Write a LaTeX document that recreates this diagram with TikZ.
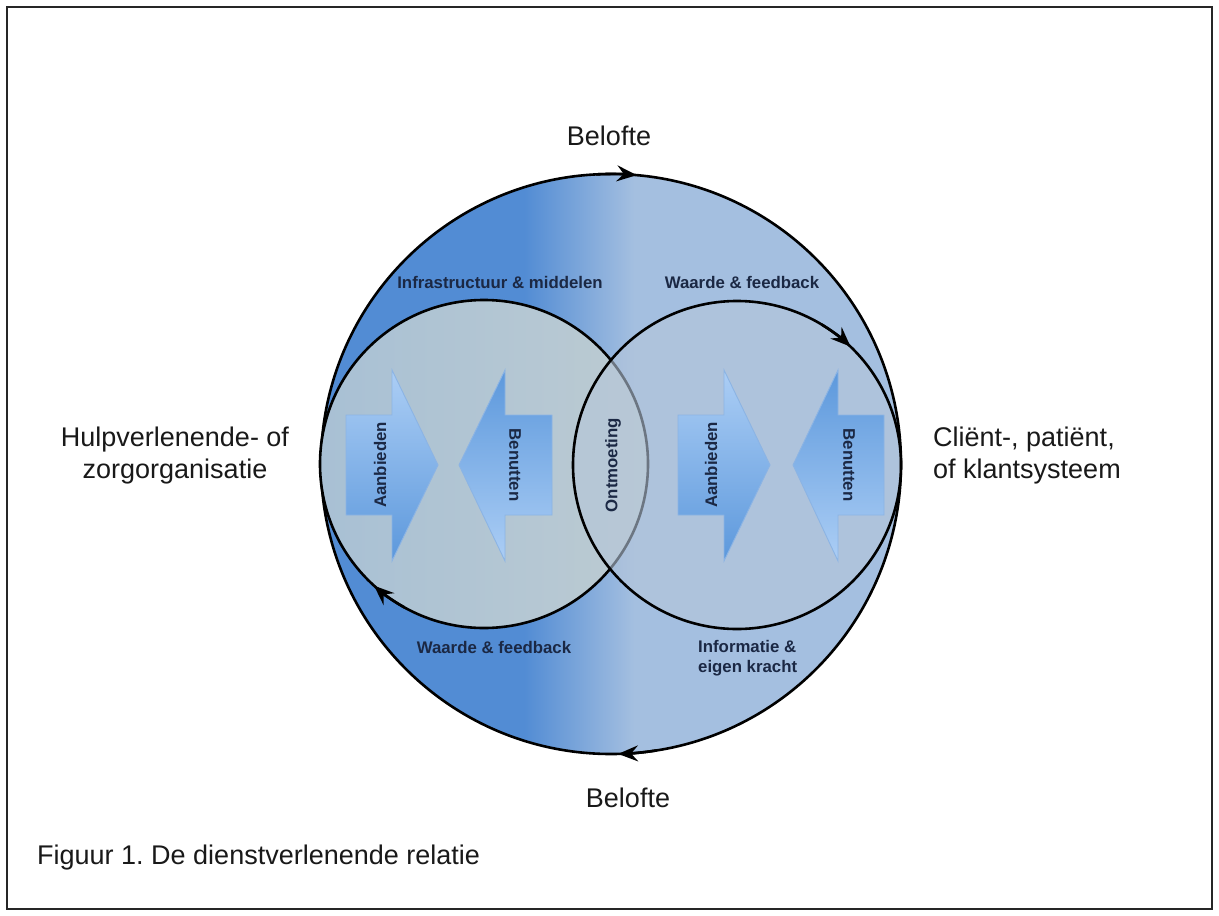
\documentclass[tikz,border=0pt]{standalone}
\usepackage{fontspec}
\setmainfont{Liberation Sans}
\usetikzlibrary{arrows.meta}
\frenchspacing
\definecolor{bigdk}{RGB}{82,140,212}
\definecolor{biglt}{RGB}{164,191,224}
\definecolor{lcl}{RGB}{168,192,212}
\definecolor{lcr}{RGB}{188,203,210}
\definecolor{rcf}{RGB}{181,198,218}
\definecolor{arlt}{RGB}{172,206,245}
\definecolor{ardk}{RGB}{92,152,220}
\definecolor{aredge}{RGB}{140,180,228}
\definecolor{navy}{RGB}{27,40,68}
\definecolor{txt}{RGB}{25,25,25}
\pgfdeclarehorizontalshading{bigsh}{100bp}{color(0bp)=(bigdk); color(42.5bp)=(bigdk); color(52bp)=(biglt); color(100bp)=(biglt)}
\begin{document}
\begin{tikzpicture}[x=1bp, y=-1bp,
  ring/.style={line width=2.6bp, draw=black},
  cwarrow/.style={line width=2.6bp, draw=black, -{Stealth[length=20bp, width=16bp, inset=7bp]}},
  bigtext/.style={text=txt, font=\fontsize{27bp}{32bp}\selectfont, inner sep=0pt},
  smalltext/.style={text=navy, font=\fontsize{16.8bp}{20bp}\selectfont\bfseries, inner sep=0pt},
  blockarrow/.style={draw=aredge, line width=0.9bp, line join=miter},
  offerarrow/.style={blockarrow, top color=arlt, bottom color=ardk},
  usearrow/.style={blockarrow, top color=ardk, bottom color=arlt}]
\useasboundingbox (0,0) rectangle (1219,916);
\fill[white] (0,0) rectangle (1219,916);
\draw[line width=2bp, black!85] (7,7) rectangle (1212,909);

% big circle
\coordinate (bigc) at (611,464);
\path[shade, shading=bigsh] (bigc) circle[radius=290bp];
\draw[ring] (bigc) circle[radius=290bp];
\draw[cwarrow] (bigc) ++(93:290bp) arc[start angle=93, end angle=84.9, radius=290bp];
\draw[cwarrow] (bigc) ++(-81:290bp) arc[start angle=-81, end angle=-88.6, radius=290bp];

% left circle
\coordinate (leftc) at (484,464);
\path[left color=lcl, right color=lcr] (leftc) circle[radius=164bp];
\draw[ring] (leftc) circle[radius=164bp];
\draw[cwarrow] (leftc) ++(241:164bp) arc[start angle=241, end angle=227.9, radius=164bp];

% right circle
\coordinate (rightc) at (737,465);
\path[fill=rcf, fill opacity=0.6] (rightc) circle[radius=164bp];
\draw[ring] (rightc) circle[radius=164bp];
\draw[cwarrow] (rightc) ++(59:164bp) arc[start angle=59, end angle=46.2, radius=164bp];

% block arrows
\path[offerarrow] (346,415) -- (392,415) -- (392,370) -- (438,465) -- (392,561) -- (392,515) -- (346,515) -- cycle;
\path[usearrow] (552,415) -- (505,415) -- (505,370) -- (459,465) -- (505,561) -- (505,515) -- (552,515) -- cycle;
\path[offerarrow] (678,415) -- (724,415) -- (724,370) -- (770,465) -- (724,561) -- (724,515) -- (678,515) -- cycle;
\path[usearrow] (884,415) -- (838,415) -- (838,370) -- (793,465) -- (838,561) -- (838,515) -- (884,515) -- cycle;

\node[smalltext, rotate=90] (aanb1) at (380,465) {Aanbieden};
\node[smalltext, rotate=-90] (benu1) at (515,465) {Benutten};
\node[smalltext, rotate=90] (aanb2) at (711,465) {Aanbieden};
\node[smalltext, rotate=-90] (benu2) at (849,465) {Benutten};
\node[smalltext, rotate=90] (ontm) at (613,465) {Ontmoeting};

% labels
\node[smalltext] (infra) at (500,282) {Infrastructuur \& middelen};
\node[smalltext] (wf1) at (742,282) {Waarde \& feedback};
\node[smalltext] (wf2) at (494,647) {Waarde \& feedback};
\node[smalltext, align=left, anchor=north west] (info) at (698,640) {Informatie \&\\eigen kracht};

\node[bigtext] (bel1) at (609,136) {Belofte};
\node[bigtext] (bel2) at (628,798) {Belofte};
\node[bigtext, align=center] (hulp) at (175,456) {Hulpverlenende- of\\zorgorganisatie};
\node[bigtext, align=left, anchor=west] (client) at (933,456) {Cliënt-, patiënt,\\of klantsysteem};
\node[bigtext, anchor=west] (fig) at (37,858) {Figuur 1. De dienstverlenende relatie};
\end{tikzpicture}
\end{document}
